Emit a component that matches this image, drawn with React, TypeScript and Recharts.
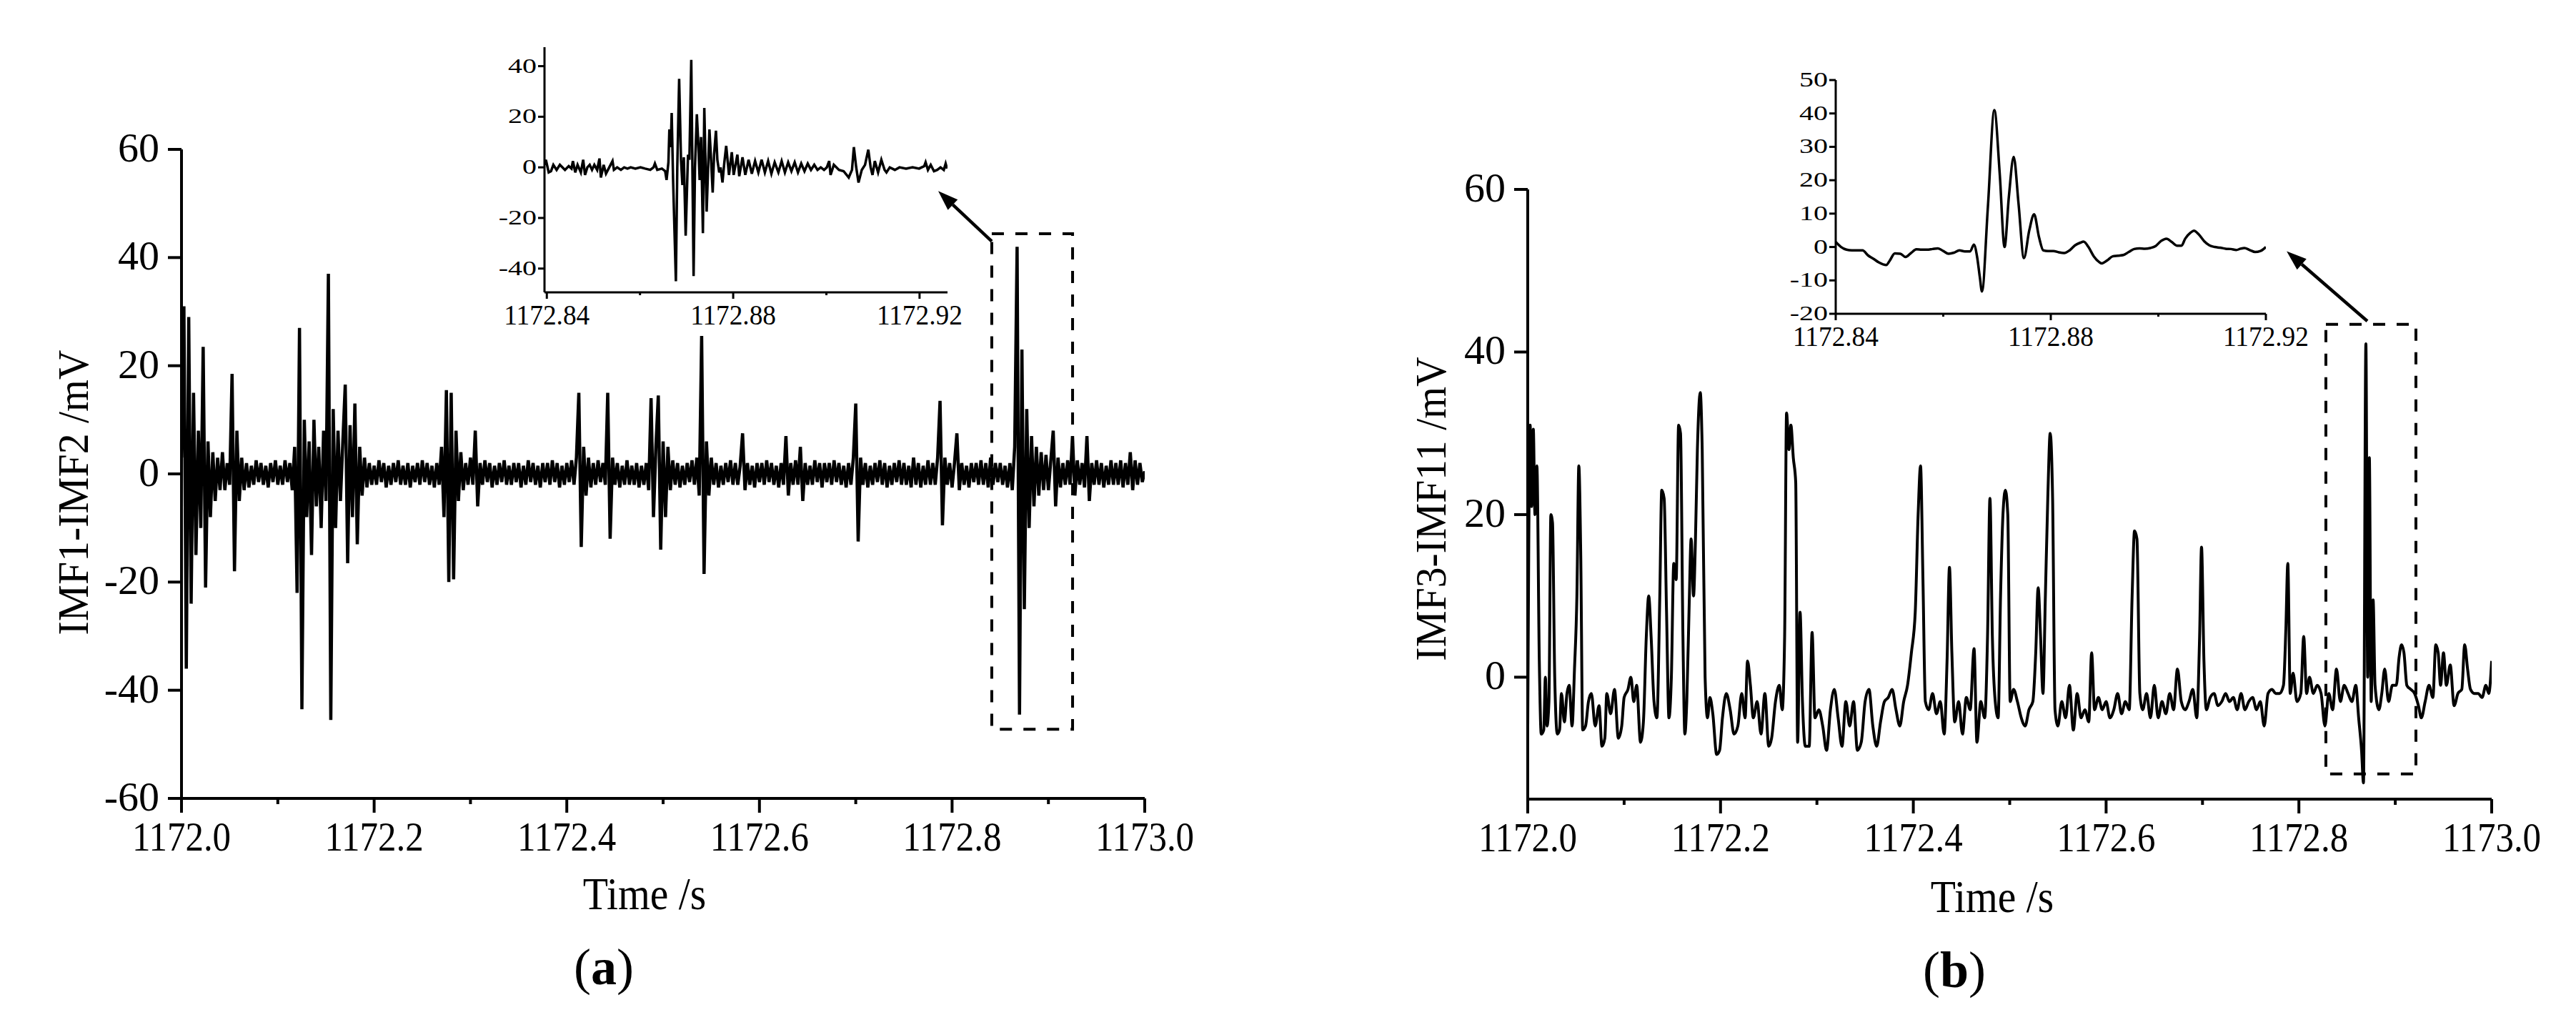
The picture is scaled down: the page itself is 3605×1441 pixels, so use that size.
import React from 'react';
import { LineChart, Line, XAxis, YAxis, ReferenceArea, ReferenceLine } from 'recharts';

const FONT = "'Liberation Serif', 'Times New Roman', Times, serif";
const INK = '#000';

// ---------------------------------------------------------------------------
// data (time in ms after 1172 s, values in mV)
// ---------------------------------------------------------------------------

// (a) IMF1-IMF2, one sample every 2.5 ms
const imf12Step = 2.5;
const imf12Values = [
  3, 31, -36, 29, -24, 15, -15, 8, -10, 23.5, -21, 6, -8, 4, -5, 3, -3, 4, -3, 2,
  -2, 18.5, -18, 8, -5, 3, -3, 2, -2.5, 1.5, -2, 2.5, -1.5, 2, -2, 1.5, -2.5, 2, -1.5, 2.5,
  -2, 1.5, -2, 2.5, -1.5, 2, -3, 5, -22, 27, -43.5, 10, -8, 6, -15, 10, -6, 5, -10, 8,
  -5, 37, -45.5, 12, -10, 8, -5, 6, 16.5, -16.5, 9, -8, 13, -13, 5, -4, 3, -2.5, 2, -2,
  1.5, -2, 2.5, -1.5, 2, -2.5, 1.5, -2, 2, -1.5, 2.5, -2, 1.5, -2, 2, -2.5, 1.5, -1.5, 2, -2,
  2.5, -1.5, 2, -2, 1.5, -2.5, 2, -2, 5, -8, 15.5, -20, 15, -19.5, 8, -5, 4, -3, 2, -2,
  3, -2, 8, -6, 2, -2, 2.5, -1.5, 2, -2.5, 1.5, -2, 2, -1.5, 2.5, -2, 1.5, -2, 2, -1.5,
  2, -2.5, 1.5, -2, 2.5, -1.5, 2, -2, 1.5, -2.5, 2, -1.5, 2, -2, 2.5, -1.5, 2, -2.5, 1.5, -2,
  2, -1.5, 2.5, -2, 3, 15, -13.5, 5, -4, 3, -2.5, 2, -2, 2.5, -1.5, 2, -2, 15, -12, 3,
  -2, 2, -2.5, 1.5, -2, 2.5, -2, 1.5, -2, 2, -2.5, 1.5, -2, 2, -3, 14, -8, 5, 14.5, -14,
  6, -8, 5, -3, 2.5, -2, 2, -2.5, 1.5, -2, 2, -1.5, 2.5, -2, 3, -4, 25.5, -18.5, 6, -4,
  3, -2, 2, -2.5, 1.5, -2, 2, -1.5, 2.5, -2, 2, -2, 1.5, 7.5, -3, 2, -2, 1.5, -2.5, 2,
  -1.5, 2, -2, 2.5, -1.5, 2, -2, 1.5, -2.5, 2, -2, 7, -4, 2, -2, 2.5, -2, 5, -5, 2,
  -2, 1.5, -2, 2.5, -1.5, 2, -2.5, 2, -1.5, 2, -2, 2.5, -1.5, 2, -2, 1.5, -2.5, 2, -2, 3,
  13, -12.5, 3, -2, 2, -2.5, 1.5, -2, 2, -1.5, 2.5, -2, 2, -2.5, 1.5, -2, 2, -1.5, 2.5, -2,
  2, -2, 1.5, -2.5, 3, -2, 2, -2.5, 1.5, -2, 2.5, -2, 2, -2, 3, 13.5, -9.5, 3, -2, 2,
  -2.5, 2, 7.5, -3, 2, -2, 1.5, -2.5, 2, -1.5, 2, -2, 2.5, -2, 2, -2.5, 3, -2, 2, -1.5,
  2, -2, 1.5, -2.5, 2, -3, 5, 42, -44.5, 23, -25, 12, -10, 7, -6, 5, -4, 4, -3, 3.5,
  -3, 2.5, 8, -6, 3, -2.5, 2, -2, 2.5, -2, 7, -4, 2.5, -2, 2, -2.5, 7, -5, 2, -2,
  2.5, -2, 2, -2.5, 1.5, -2, 2.5, -2, 2, -2, 2.5, -2.5, 2, -2, 4, -3, 2.5, -2, 2, -1.5,
  0.5,
];

// (a) inset, 1172.84 - 1172.92 s
const imf12Zoom: number[][] = [
  [839.5, 1], [839.8, 3], [840.4, -2], [840.9, -1.5], [841.4, 1], [842.1, -1], [842.8, 1],
  [843.9, -1], [844.7, 0.5], [845.3, -0.5], [845.6, 2.5], [846.1, -2], [846.6, 1], [847.3, -2],
  [847.8, 3], [848.2, -3], [848.7, 0], [849.2, 1], [849.7, -1], [850.2, 1], [850.8, -1],
  [851.3, 3.5], [851.6, -4], [852.2, 1], [852.7, -2.5], [853.4, 0], [854.1, 2.5], [854.4, -1],
  [855.1, 0], [855.9, -1], [856.6, 0], [857.3, -0.5], [858.0, 0], [859.0, -0.5], [860.1, 0],
  [861.1, -0.5], [862.2, -1], [862.9, 0], [863.2, 1.5], [863.7, -1], [864.7, -0.5], [865.4, -1.5],
  [865.7, -5], [866.1, 2], [866.3, 15], [866.6, 8], [866.8, 21.5], [867.1, -5], [867.7, -45],
  [868.0, 0], [868.4, 35], [868.8, 3], [869.1, -7], [869.4, 4], [869.8, -27], [870.3, 5],
  [870.6, 3], [871.0, 42.5], [871.5, -43], [871.8, 0], [872.2, 21], [872.5, 10], [872.8, -5],
  [873.1, 12], [873.5, -26], [873.8, 23.5], [874.3, -17.5], [874.9, 15], [875.2, 5], [875.6, -10],
  [875.9, 5], [876.3, 14.5], [876.6, 3], [877.0, -2], [877.3, 0], [877.7, -6], [878.1, 2],
  [878.5, 8.5], [879.1, -3], [879.7, 6], [880.1, -3], [880.9, 5], [881.3, -3.5], [882.0, 4],
  [882.6, -3], [883.3, 3], [884.0, -2.5], [884.7, 2.5], [885.4, -2], [886.1, 3], [886.8, -2],
  [887.5, 2.5], [888.2, -2.5], [888.9, 2], [889.7, -2], [890.4, 2.5], [891.1, -2], [891.8, 2],
  [892.5, -1.5], [893.2, 2], [893.9, -2], [894.6, 1.5], [895.3, -1.5], [896.0, 1.5], [896.7, -1],
  [897.4, 1], [898.1, -1], [898.8, 0], [899.5, -1], [900.1, 0], [900.6, 2.5], [900.9, -3],
  [901.6, 1], [902.7, -1], [903.7, -1.5], [904.8, -4], [905.5, -1], [905.9, 8], [906.4, 0],
  [906.9, -6], [907.6, -1], [908.3, 1], [909.0, 7], [909.5, 0], [909.9, -3], [910.4, 2.5],
  [911.1, -2], [911.8, 3], [912.5, -1], [912.9, -2], [913.6, 0], [914.7, -1], [915.7, 0],
  [917.1, -0.5], [918.5, 0], [919.9, -0.5], [921.0, 0.5], [921.3, 2], [921.8, -1], [922.4, 1],
  [923.1, -1.5], [923.8, -1], [924.5, 0], [925.2, -1], [925.6, 1.5], [925.9, -0.5],
];

// (b) IMF3-IMF11
const imf311: number[][] = [
  [0, -6.5], [2.5, 31], [4, 21], [5.8, 30.5], [7.5, 20], [9.5, 26], [12, 2], [14, -7],
  [16.6, -6.5], [18.3, 0], [20, -6], [22, -3], [24, 20], [25.7, 19], [28, 0], [30.7, -7],
  [33, -6.5], [35, -2], [38, -5.5], [40.7, -2], [43, -1], [46, -6], [48.5, 1], [51, 10],
  [53, 26], [55, 15], [57, -6.5], [60, -6], [63, -3], [66, -2], [70, -6], [74, -3.5],
  [77, -8.5], [80, -7.5], [82, -2], [86, -4.5], [90, -1.5], [94, -7.5], [97.5, -6], [100, -2.5],
  [104, -1.5], [107, 0], [110, -3], [113, -1], [117, -8], [120, -5.5], [123, 5], [125.5, 10],
  [128, 5], [131, -3], [134, -5], [137, 10], [139, 23], [141.5, 22], [144, 8], [146.5, -5],
  [149, 0], [151.5, 14], [154, 12], [156.5, 31], [158.5, 30], [161, 5], [163, -7], [165, -3],
  [167.5, 9], [169.5, 17], [172, 10], [174, 17], [176, 28], [179, 35], [181, 28], [184, 0],
  [186.5, -5], [189, -2.5], [192, -4.5], [196, -9.5], [199, -9], [202, -5], [206, -2], [210, -4],
  [214, -7], [218, -6], [222, -2], [225.5, -5], [228, 2], [231, -1], [234, -5], [238, -3],
  [242, -7], [246, -2], [250, -8.5], [253, -7.5], [257, -3], [261, -1], [264, -4], [266.5, 5],
  [268.5, 32.5], [271, 28], [273, 31], [275.5, 27], [278, 24], [280, -8], [282.5, 8], [285, -3],
  [288, -8.5], [292, -8.5], [295, 5.5], [298, -5], [302, -4], [306, -6], [310, -9], [314, -4],
  [318, -1.5], [322, -5], [326, -8.5], [330, -3], [334, -6], [338, -3], [342, -9], [346, -8],
  [350, -3], [354, -1.5], [358, -6], [362, -8.5], [366, -5.5], [370, -3], [374, -2.5], [378, -1.5],
  [382, -4], [386, -6], [390, -3], [394, -1], [398, 3], [402, 8], [405, 20], [407.5, 26],
  [410, 12], [412.5, -3], [416, -4], [420, -2], [424, -4.5], [428, -3], [432, -7], [435, 2],
  [437.5, 13.5], [440, 3], [443, -5.5], [447, -3], [451, -7], [455, -2.5], [459, -4], [463, 3.5],
  [466, -8], [470, -3], [474, -5], [477, 5], [479.5, 22], [482, 5], [485, -3], [488, -5],
  [490.5, 10], [493, 20], [495.5, 23], [498, 20], [500.5, -3], [504, -1.5], [508, -3], [512, -5],
  [516, -6], [520, -4], [524, -3], [527, 3], [529.5, 11], [532, 5], [534.5, -2], [537, 10],
  [539.5, 22], [542, 30], [544.5, 22], [547, -4], [550, -6], [554, -3], [558, -5], [562, -1],
  [566, -6.5], [570, -2], [574, -5], [578, -4], [582, -5.5], [585, 3], [588, -4], [592, -2.5],
  [596, -4], [600, -3], [604, -5], [608, -4], [612, -2], [616, -4.5], [620, -3], [624, -4],
  [627, 10], [629.5, 18], [632, 17], [635, -2], [638, -4], [642, -2], [646, -5], [650, -1],
  [654, -5], [658, -3], [662, -4.5], [666, -2], [670, -4], [674, 1], [678, -3], [682, -4],
  [686, -3], [690, -1.5], [694, -5], [697, 5], [699, 16], [701.5, 2], [704, -4], [708, -2.5],
  [712, -2], [716, -3.5], [720, -3], [724, -2], [728, -3], [732, -2.5], [736, -4], [740, -2],
  [744, -4], [748, -3], [752, -2.5], [756, -4], [760, -3], [764, -6], [768, -2], [772, -1.5],
  [776, -2], [780, -2], [784, -1], [786.5, 6], [788.5, 14], [791, -2], [794, 0.5], [798, -3],
  [802, -2], [805, 5], [808, -2], [811, 0], [815, -2], [819, -1], [823, -2], [827, -6],
  [831, -2], [835, -4], [839, 1], [843, -3], [847, -1], [851, -2], [855, -3], [859, -1],
  [862, -5], [865, -9], [867, -13], [869.5, 41], [871.4, 0], [873.1, 27], [875, -3], [877, 9.5],
  [879, -1], [883, -4], [886, -2], [889, 1], [893, -3], [897, -1], [901, -1], [904, 2.5],
  [906.5, 4], [909, 3], [912, -1], [916, -1.5], [920, -2], [924, -3.5], [927, -5], [931, -3],
  [935, -1], [939, -2.5], [942, 4], [944.5, 3], [947, -1], [950, 3], [953, -1], [957, 1.5],
  [961, -3.5], [965, -2], [969, -1.5], [972, 4], [975, 1], [978, -1.5], [982, -2], [986, -2],
  [990, -2.5], [994, -1], [997, -2], [1000, 2],
];

// (b) inset, 1172.84 - 1172.92 s
const imf311Zoom: number[][] = [
  [840, 1.5], [841, 0], [842, -0.8], [843, -1], [844, -1], [845, -1], [846, -2.5], [847, -3.5],
  [848, -4.6], [849.4, -5.4], [850, -4.2], [851, -1.9], [852, -2], [853, -3], [854, -1.8],
  [855, -0.7], [856, -0.8], [857, -0.8], [858, -0.6], [859, -0.4], [860, -1.2], [861, -2],
  [862, -1.7], [863, -1], [864, -1.3], [865, -1.3], [865.7, 0.7], [866.3, -3], [866.8, -9],
  [867.2, -13.3], [868.3, 12], [869.5, 41], [870.5, 22], [871.4, 0], [872.2, 15], [873.1, 27],
  [874, 13], [875, -3.3], [876, 5], [876.9, 9.8], [877.8, 3], [878.6, -1], [879.5, -1.2],
  [880.5, -1.2], [881.5, -1.6], [882.5, -1.8], [883.5, -1], [884.5, 0.5], [885.5, 1.3],
  [886.1, 1.6], [887, 0], [888, -2.8], [889, -4.5], [889.5, -4.9], [890.5, -4], [891.5, -2.8],
  [892.5, -2.6], [893.5, -2.4], [894.5, -1.5], [895.5, -0.6], [896.5, -0.4], [897.5, -0.5],
  [898.5, -0.3], [899.5, 0.3], [900.5, 1.8], [901.5, 2.5], [902.5, 1.5], [903.5, 0.4],
  [904.3, 0.4], [905, 2.5], [906, 4.3], [906.6, 4.9], [907.5, 3.8], [908.5, 1.8], [909.5, 0.5],
  [910.5, 0], [911.5, -0.2], [912.5, -0.5], [913.5, -0.6], [914.5, -0.9], [915.3, -0.5],
  [916, -0.3], [917, -0.9], [918, -1.5], [919, -1.2], [920, 0],
];

const mainTimeTicks = [0, 100, 200, 300, 400, 500, 600, 700, 800, 900, 1000];
const mainTimeLabels = [0, 200, 400, 600, 800, 1000];
const zoomTimeTicks = [840, 860, 880, 900, 920];
const zoomTimeLabels = [840, 880, 920];
const imf12Ticks = [-60, -40, -20, 0, 20, 40, 60];
const imf311Ticks = [0, 20, 40, 60];
const imf12ZoomTicks = [-40, -20, 0, 20, 40];
const imf311ZoomTicks = [-20, -10, 0, 10, 20, 30, 40, 50];

// dashed boxes and arrows (data units)
const boxA = { x1: 841.2, x2: 925.1, y1: -47.2, y2: 44.4 };
const arrowA = [{ x: 841.2, y: 43 }, { x: 785.6, y: 52.3 }];
const boxB = { x1: 828, x2: 921.4, y1: -11.9, y2: 43.4 };
const arrowB = [{ x: 871, y: 43.8 }, { x: 787.3, y: 52.4 }];

const imf12Data = imf12Values.map((v, i) => ({ t: i * imf12Step, v }));
const toPoints = (pairs: number[][]) => pairs.map(([t, v]) => ({ t, v }));

// ---------------------------------------------------------------------------
// ticks, labels, arrow
// ---------------------------------------------------------------------------

function timeTick(o: { labels: number[]; major: number; minor: number; sw: number; base: number; size: number; sx: number; digits: number }) {
  return (p: any) => {
    const v = p.payload.value as number;
    const isMajor = o.labels.includes(v);
    return (
      <g>
        <line x1={p.x} x2={p.x} y1={p.y} y2={p.y + (isMajor ? o.major : o.minor)} stroke={INK} strokeWidth={o.sw} />
        {isMajor ? (
          <text
            transform={`translate(${p.x},${p.y + o.base}) scale(${o.sx},1)`}
            textAnchor="middle"
            fontFamily={FONT}
            fontSize={o.size}
            fill={INK}
          >
            {(1172 + v / 1000).toFixed(o.digits)}
          </text>
        ) : null}
      </g>
    );
  };
}

function valueTick(o: { len: number; gap: number; sw: number; base: number; size: number; sy: number }) {
  return (p: any) => (
    <g>
      <line x1={p.x - o.len} x2={p.x} y1={p.y} y2={p.y} stroke={INK} strokeWidth={o.sw} />
      <text
        transform={`translate(${p.x - o.len - o.gap},${p.y + o.base}) scale(1,${o.sy})`}
        textAnchor="end"
        fontFamily={FONT}
        fontSize={o.size}
        fill={INK}
      >
        {p.payload.value}
      </text>
    </g>
  );
}

const mainTimeTick = timeTick({ labels: mainTimeLabels, major: 20, minor: 8, sw: 4, base: 73, size: 56, sx: 0.91, digits: 1 });
const zoomTimeTick = timeTick({ labels: zoomTimeLabels, major: 9, minor: 4, sw: 3, base: 45, size: 41, sx: 0.91, digits: 2 });
const mainValueTick = valueTick({ len: 19, gap: 12, sw: 4, base: 17, size: 58, sy: 1 });
const zoomValueTick = valueTick({ len: 9, gap: 2, sw: 3, base: 9, size: 40, sy: 0.72 });

const xTitle = (cx: number, base: number, panel: string, px: number) => () => (
  <g fontFamily={FONT} fill={INK}>
    <text transform={`translate(${cx},${base}) scale(0.9,1)`} textAnchor="middle" fontSize={64}>
      Time /s
    </text>
    <text x={px} y={base + 105} textAnchor="middle" fontSize={72}>
      (<tspan fontWeight="bold">{panel}</tspan>)
    </text>
  </g>
);

const yTitle = (bx: number, cy: number, text: string) => () => (
  <text
    transform={`translate(${bx},${cy}) rotate(-90) scale(0.93,1)`}
    textAnchor="middle"
    fontFamily={FONT}
    fontSize={62}
    fill={INK}
  >
    {text}
  </text>
);

const arrowShape = (p: any) => {
  const { x1, y1, x2, y2 } = p;
  const a = Math.atan2(y2 - y1, x2 - x1);
  const len = 28;
  const half = 10;
  const bx = x2 - len * Math.cos(a);
  const by = y2 - len * Math.sin(a);
  const nx = -Math.sin(a) * half;
  const ny = Math.cos(a) * half;
  return (
    <g>
      <line x1={x1} y1={y1} x2={bx} y2={by} stroke={INK} strokeWidth={4.5} />
      <polygon points={`${x2},${y2} ${bx + nx},${by + ny} ${bx - nx},${by - ny}`} fill={INK} />
    </g>
  );
};

const axisLine = { stroke: INK, strokeWidth: 4 };
const thinAxisLine = { stroke: INK, strokeWidth: 3 };

// ---------------------------------------------------------------------------
// panels
// ---------------------------------------------------------------------------

function PanelA() {
  return (
    <LineChart width={1700} height={1441} data={imf12Data} margin={{ top: 209, right: 98, bottom: 224, left: 0 }}>
      <XAxis
        type="number"
        dataKey="t"
        domain={[0, 1000]}
        ticks={mainTimeTicks}
        interval={0}
        height={100}
        tickLine={false}
        tickSize={0}
        tickMargin={0}
        axisLine={axisLine}
        tick={mainTimeTick}
        allowDataOverflow
        label={{ content: xTitle(902, 1272, 'a', 845) }}
      />
      <YAxis
        type="number"
        domain={[-60, 60]}
        ticks={imf12Ticks}
        interval={0}
        width={254}
        tickLine={false}
        tickSize={0}
        tickMargin={0}
        axisLine={axisLine}
        tick={mainValueTick}
        allowDataOverflow
        label={{ content: yTitle(123, 689, 'IMF1-IMF2 /mV') }}
      />
      <ReferenceArea {...boxA} fill="none" stroke={INK} strokeWidth={4} strokeDasharray="17 16" ifOverflow="visible" />
      <ReferenceLine segment={arrowA} shape={arrowShape} ifOverflow="visible" />
      <Line type="linear" dataKey="v" stroke={INK} strokeWidth={4.5} dot={false} isAnimationActive={false} />
    </LineChart>
  );
}

function InsetA() {
  return (
    <LineChart width={800} height={480} data={toPoints(imf12Zoom)} margin={{ top: 46, right: 34, bottom: 31, left: 0 }}>
      <XAxis
        type="number"
        dataKey="t"
        domain={[839.5, 926]}
        ticks={zoomTimeTicks}
        interval={0}
        height={60}
        tickLine={false}
        tickSize={0}
        tickMargin={0}
        axisLine={thinAxisLine}
        tick={zoomTimeTick}
        allowDataOverflow
      />
      <YAxis
        type="number"
        domain={[-49.4, 47.5]}
        ticks={imf12ZoomTicks}
        interval={0}
        width={202}
        tickLine={false}
        tickSize={0}
        tickMargin={0}
        axisLine={thinAxisLine}
        tick={zoomValueTick}
        allowDataOverflow
      />
      <Line type="linear" dataKey="v" stroke={INK} strokeWidth={3.5} dot={false} isAnimationActive={false} />
    </LineChart>
  );
}

function PanelB() {
  return (
    <LineChart width={1755} height={1441} data={toPoints(imf311)} margin={{ top: 265, right: 118, bottom: 223, left: 0 }}>
      <XAxis
        type="number"
        dataKey="t"
        domain={[0, 1000]}
        ticks={mainTimeTicks}
        interval={0}
        height={100}
        tickLine={false}
        tickSize={0}
        tickMargin={0}
        axisLine={axisLine}
        tick={mainTimeTick}
        allowDataOverflow
        label={{ content: xTitle(938, 1276, 'b', 885) }}
      />
      <YAxis
        type="number"
        domain={[-15, 60]}
        ticks={imf311Ticks}
        interval={0}
        width={288}
        tickLine={false}
        tickSize={0}
        tickMargin={0}
        axisLine={axisLine}
        tick={mainValueTick}
        allowDataOverflow
        label={{ content: yTitle(173, 712, 'IMF3-IMF11 /mV') }}
      />
      <ReferenceArea {...boxB} fill="none" stroke={INK} strokeWidth={4} strokeDasharray="17 16" ifOverflow="visible" />
      <ReferenceLine segment={arrowB} shape={arrowShape} ifOverflow="visible" />
      <Line type="monotone" dataKey="v" stroke={INK} strokeWidth={4} dot={false} isAnimationActive={false} />
    </LineChart>
  );
}

function InsetB() {
  return (
    <LineChart width={900} height={460} data={toPoints(imf311Zoom)} margin={{ top: 52, right: 129, bottom: 21, left: 0 }}>
      <XAxis
        type="number"
        dataKey="t"
        domain={[840, 920]}
        ticks={zoomTimeTicks}
        interval={0}
        height={60}
        tickLine={false}
        tickSize={0}
        tickMargin={0}
        axisLine={thinAxisLine}
        tick={zoomTimeTick}
        allowDataOverflow
      />
      <YAxis
        type="number"
        domain={[-20, 50]}
        ticks={imf311ZoomTicks}
        interval={0}
        width={169}
        tickLine={false}
        tickSize={0}
        tickMargin={0}
        axisLine={thinAxisLine}
        tick={zoomValueTick}
        allowDataOverflow
      />
      <Line type="monotone" dataKey="v" stroke={INK} strokeWidth={3.5} dot={false} isAnimationActive={false} />
    </LineChart>
  );
}

export default function App() {
  return (
    <div style={{ position: 'absolute', left: 0, top: 0, width: 3605, height: 1441, background: '#fff', overflow: 'hidden' }}>
      <div style={{ position: 'absolute', left: 0, top: 0 }}>
        <PanelA />
      </div>
      <div style={{ position: 'absolute', left: 560, top: 20 }}>
        <InsetA />
      </div>
      <div style={{ position: 'absolute', left: 1850, top: 0 }}>
        <PanelB />
      </div>
      <div style={{ position: 'absolute', left: 2400, top: 60 }}>
        <InsetB />
      </div>
    </div>
  );
}
